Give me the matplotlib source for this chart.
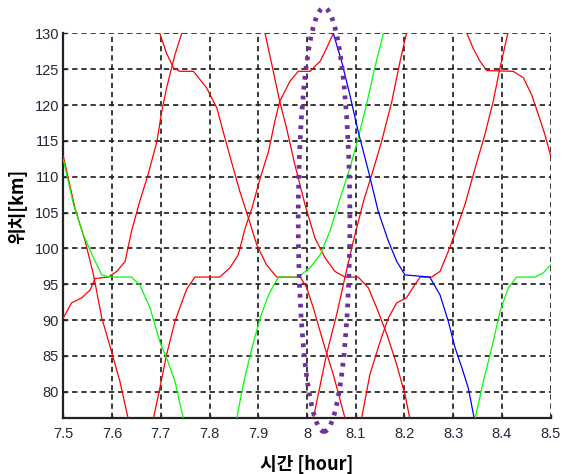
import matplotlib
matplotlib.use('Agg')
import matplotlib.pyplot as plt
from matplotlib.patches import Ellipse

plt.rcParams['font.family'] = ['Liberation Sans', 'Noto Sans CJK KR', 'DejaVu Sans']

# train runs: time [hour], position [km]
red_a_t = [7.5, 7.524, 7.545, 7.562, 7.579, 7.599, 7.616, 7.633]
red_a_y = [112.9, 105.6, 101.0, 96.3, 90.3, 85.6, 81.5, 76.3]

red_b_t = [7.5, 7.517, 7.538, 7.555, 7.565, 7.592, 7.61, 7.627, 7.64, 7.657, 7.674, 7.692, 7.702, 7.712, 7.729, 7.743]
red_b_y = [90.3, 92.4, 93.1, 94.2, 95.8, 96.0, 96.8, 98.2, 102.4, 106.6, 110.3, 114.9, 119.1, 122.4, 127.0, 130.0]

red_c_t = [7.698, 7.712, 7.726, 7.739, 7.767, 7.794, 7.815, 7.828, 7.845, 7.862, 7.88, 7.897, 7.917, 7.938,
           7.986, 7.999, 8.013, 8.033, 8.054, 8.078]
red_c_y = [130.0, 127.2, 125.2, 124.7, 124.7, 122.4, 119.6, 116.3, 112.1, 108.0, 104.2, 100.5, 97.7, 96.0,
           96.0, 94.6, 91.7, 87.0, 82.4, 76.3]

red_d_t = [7.685, 7.698, 7.712, 7.729, 7.746, 7.753, 7.77, 7.821, 7.842, 7.859, 7.873, 7.887, 7.904, 7.921,
           7.934, 7.944, 7.965, 7.982, 8.006, 8.027, 8.04, 8.054]
red_d_y = [76.3, 80.5, 85.2, 89.8, 93.0, 94.3, 96.0, 96.0, 97.3, 99.1, 102.8, 105.6, 109.8, 113.5,
           117.7, 120.5, 123.3, 124.7, 124.7, 126.1, 127.9, 130.0]

red_e_t = [7.914, 7.928, 7.944, 7.958, 7.975, 7.996, 8.016, 8.037, 8.057, 8.078, 8.105, 8.126, 8.143, 8.164,
           8.184, 8.201, 8.211]
red_e_y = [130.0, 125.6, 120.5, 116.8, 111.7, 106.1, 101.5, 98.7, 96.8, 96.0, 96.0, 94.5, 91.7, 88.0,
           83.8, 79.6, 76.3]

red_f_t = [8.013, 8.04, 8.061, 8.078, 8.095, 8.116, 8.133, 8.153, 8.174, 8.191, 8.204]
red_f_y = [76.3, 85.2, 90.8, 96.0, 101.0, 106.6, 110.3, 114.9, 120.5, 126.1, 130.0]

red_g_t = [8.112, 8.129, 8.15, 8.167, 8.184, 8.204, 8.221, 8.232, 8.256, 8.273, 8.293, 8.307, 8.324, 8.345,
           8.365, 8.382, 8.396, 8.412]
red_g_y = [76.3, 82.4, 87.0, 90.3, 92.4, 93.1, 94.9, 96.0, 96.0, 96.8, 100.1, 102.8, 106.1, 111.2,
           115.9, 120.5, 125.2, 130.0]

red_h_t = [8.328, 8.341, 8.355, 8.369, 8.423, 8.444, 8.461, 8.475, 8.488, 8.5]
red_h_y = [130.0, 127.9, 126.1, 124.8, 124.7, 123.8, 121.4, 118.6, 115.9, 112.9]

green_a_t = [7.5, 7.521, 7.541, 7.562, 7.579, 7.596, 7.64, 7.657, 7.678, 7.698, 7.712, 7.729, 7.746]
green_a_y = [112.4, 106.1, 101.9, 98.7, 96.3, 96.0, 96.0, 94.9, 91.7, 87.0, 84.7, 81.5, 76.3]

green_b_t = [7.856, 7.869, 7.887, 7.904, 7.921, 7.941, 7.982, 8.006, 8.027, 8.047, 8.068, 8.088, 8.105,
             8.122, 8.139, 8.157]
green_b_y = [76.3, 81.0, 86.1, 90.3, 93.5, 96.0, 96.0, 97.3, 99.1, 102.4, 107.0, 111.2, 115.4,
             120.0, 125.2, 130.0]

green_c_t = [8.345, 8.362, 8.379, 8.396, 8.413, 8.43, 8.468, 8.485, 8.5]
green_c_y = [76.3, 81.5, 86.1, 91.2, 94.5, 96.0, 96.0, 96.6, 97.7]

blue_t = [8.054, 8.071, 8.088, 8.105, 8.126, 8.146, 8.167, 8.184, 8.201, 8.252, 8.273, 8.29, 8.304,
          8.318, 8.331, 8.343]
blue_y = [130.0, 126.1, 121.4, 116.3, 110.8, 105.2, 101.0, 98.2, 96.3, 96.0, 93.5, 89.8, 86.1,
          83.3, 80.5, 76.3]

x_ticks = [7.5, 7.6, 7.7, 7.8, 7.9, 8.0, 8.1, 8.2, 8.3, 8.4, 8.5]
x_tick_labels = ['7.5', '7.6', '7.7', '7.8', '7.9', '8', '8.1', '8.2', '8.3', '8.4', '8.5']
y_ticks = [80, 85, 90, 95, 100, 105, 110, 115, 120, 125, 130]

# highlighted region (purple dotted ellipse)
mark_center = (8.035, 104.0)
mark_width = 0.106
mark_height = 59.1

fig = plt.figure(figsize=(5.62, 4.74), dpi=100)
ax = fig.add_axes([0.1126, 0.1175, 0.8673, 0.8122])

reds = [(red_a_t, red_a_y), (red_b_t, red_b_y), (red_c_t, red_c_y), (red_d_t, red_d_y),
        (red_e_t, red_e_y), (red_f_t, red_f_y), (red_g_t, red_g_y), (red_h_t, red_h_y)]
for t, y in reds:
    ax.plot(t, y, color='#ff0000', lw=0.9, zorder=3)
for t, y in [(green_a_t, green_a_y), (green_b_t, green_b_y), (green_c_t, green_c_y)]:
    ax.plot(t, y, color='#00ff00', lw=0.9, zorder=4)
ax.plot(blue_t, blue_y, color='#0000ff', lw=0.9, zorder=5)

ell = Ellipse(mark_center, mark_width, mark_height, fill=False, edgecolor='#7030a0',
              lw=3.4, linestyle=(0, (0.8, 1.3)), clip_on=False, zorder=6)
ax.add_patch(ell)

ax.set_xlim(7.5, 8.5)
ax.set_ylim(76.3, 130)
ax.set_xticks(x_ticks)
ax.set_xticklabels(x_tick_labels)
ax.set_yticks(y_ticks)

ax.grid(True, color='#1a1a1a', linestyle=(0, (3.2, 2.3)), linewidth=1.2)
ax.set_axisbelow(True)
for s in ['top', 'right']:
    ax.spines[s].set_visible(False)
for s in ['left', 'bottom']:
    ax.spines[s].set_linewidth(1.6)
    ax.spines[s].set_color('#222222')

ax.tick_params(direction='in', length=3, width=1, colors='#222222', labelsize=10.5,
               labelcolor='#26263a')
ax.tick_params(axis='x', pad=6)
ax.tick_params(axis='y', pad=3)

ax.set_xlabel('시간 [hour]', fontsize=13, fontweight='bold', family=['Noto Sans CJK KR', 'DejaVu Sans'])
ax.set_ylabel('위치[km]', fontsize=13, fontweight='bold', family=['Noto Sans CJK KR', 'DejaVu Sans'])
ax.xaxis.set_label_coords(0.5, -0.095)
ax.yaxis.set_label_coords(-0.075, 0.55)

fig.savefig('out.png', dpi=100)
